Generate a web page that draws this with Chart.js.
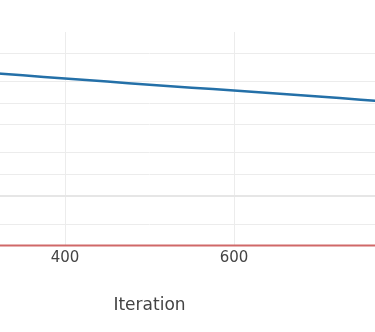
<!DOCTYPE html>
<html>
<head>
<meta charset="utf-8">
<script src="https://cdn.jsdelivr.net/npm/chart.js@4"></script>
<style>
  html, body { margin: 0; padding: 0; background: #fff; }
  #view { position: relative; width: 375px; height: 332px; overflow: hidden; }
  /* the full plot is wider than the window; only the middle part is visible */
  #plot { position: absolute; left: -273px; top: 0; width: 845px; height: 332px; }
</style>
</head>
<body>
<div id="view"><div id="plot"><canvas id="lossChart"></canvas></div></div>
<script>
const iterations = [300, 350, 400, 450, 500, 550, 600, 650, 700, 750, 800];
const lossValues = [27.3, 24.6, 22.2, 20.2, 18.1, 16.5, 15.1, 13.7, 12.4, 11.2, 10.1];
const floorIterations = [0, 1000];
const floorValues = [0.1, 0.1];
const xTicks = [200, 400, 600, 800];
const yTicks = [0.1, 0.2, 0.5, 1, 2, 5, 10, 20, 50];

const textColor = '#444';
const gridColor = '#ececec';

const ctx = document.getElementById('lossChart').getContext('2d');
new Chart(ctx, {
  type: 'line',
  data: {
    datasets: [
      {
        label: 'Loss',
        data: iterations.map((it, i) => ({ x: it, y: lossValues[i] })),
        borderColor: '#2470a8',
        borderWidth: 2.5,
        pointRadius: 0,
        tension: 0.3
      },
      {
        label: 'Floor',
        data: floorIterations.map((it, i) => ({ x: it, y: floorValues[i] })),
        borderColor: '#d06868',
        borderWidth: 2,
        pointRadius: 0,
        clip: 4
      }
    ]
  },
  options: {
    responsive: true,
    maintainAspectRatio: false,
    animation: false,
    layout: { padding: { top: 32, left: 0, right: 0, bottom: 16.5 } },
    plugins: {
      legend: { display: false },
      tooltip: { enabled: false }
    },
    scales: {
      x: {
        type: 'linear',
        min: 0,
        max: 1000,
        afterBuildTicks: scale => { scale.ticks = xTicks.map(v => ({ value: v })); },
        grid: { color: gridColor, drawTicks: false },
        border: { display: false },
        ticks: {
          padding: 4,
          color: textColor,
          font: { family: 'DejaVu Sans', size: 15 }
        },
        title: {
          display: true,
          text: 'Iteration',
          color: textColor,
          font: { family: 'DejaVu Sans', size: 17 },
          padding: { top: 23.5, bottom: 0 }
        }
      },
      y: {
        type: 'logarithmic',
        min: 0.1,
        max: 100,
        afterBuildTicks: scale => { scale.ticks = yTicks.map(v => ({ value: v })); },
        grid: {
          drawTicks: false,
          color: c => c.tick && c.tick.value === 0.5 ? '#e6e6e6' : gridColor,
          lineWidth: c => c.tick && c.tick.value === 0.5 ? 2 : 1
        },
        border: { display: false },
        ticks: { display: false }
      }
    }
  }
});
</script>
</body>
</html>
